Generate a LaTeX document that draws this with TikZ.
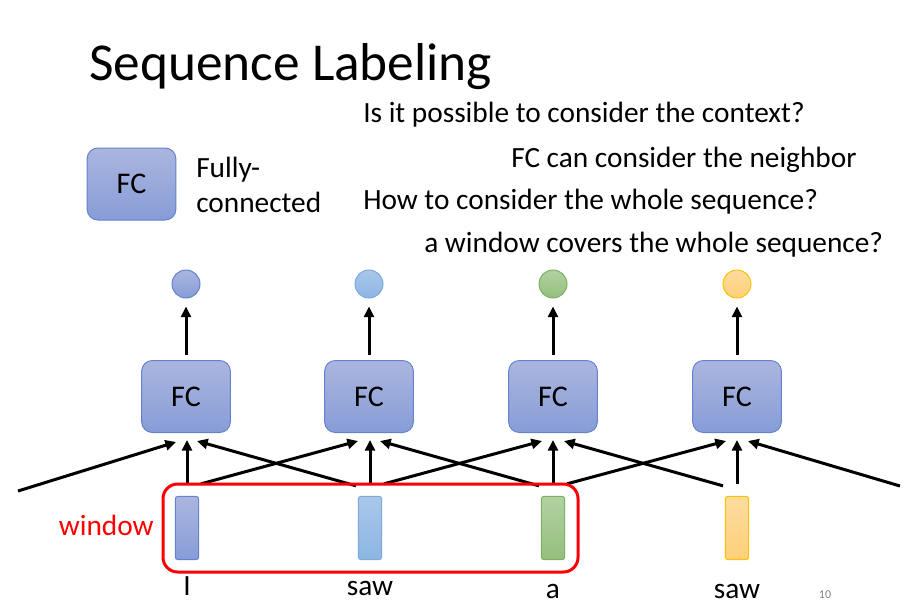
\documentclass[tikz,border=0pt]{standalone}
\usepackage{fontspec}
\setmainfont{Carlito}
\usetikzlibrary{arrows.meta,calc}
\definecolor{bluetop}{RGB}{171,182,223}
\definecolor{bluebot}{RGB}{135,156,215}
\definecolor{blueline}{RGB}{100,130,205}
\definecolor{ltop}{RGB}{170,199,234}
\definecolor{lbot}{RGB}{140,182,227}
\definecolor{lline}{RGB}{125,168,220}
\definecolor{gtop}{RGB}{178,209,162}
\definecolor{gbot}{RGB}{148,191,126}
\definecolor{gline}{RGB}{125,176,98}
\definecolor{ytop}{RGB}{253,220,158}
\definecolor{ybot}{RGB}{253,208,122}
\definecolor{yline}{RGB}{255,192,0}
\begin{document}
\begin{tikzpicture}[x=0.75pt,y=-0.75pt,
  txt/.style={inner sep=0pt,anchor=base west,font=\fontsize{22}{26}\selectfont},
  fcbox/.style={draw=blueline,line width=0.75pt,rounded corners=8pt,top color=bluetop,bottom color=bluebot,minimum width=66.5pt,minimum height=54pt,inner sep=0pt,font=\fontsize{22.5}{26}\selectfont},
  outc/.style={circle,line width=0.75pt,minimum size=21pt,inner sep=0pt},
  inrect/.style={line width=0.75pt,rounded corners=2pt,minimum width=17.5pt,minimum height=47.5pt,inner sep=0pt},
  cblue/.style={draw=blueline,top color=bluetop,bottom color=bluebot},
  clight/.style={draw=lline,top color=ltop,bottom color=lbot},
  cgreen/.style={draw=gline,top color=gtop,bottom color=gbot},
  cyellow/.style={draw=yline,top color=ytop,bottom color=ybot},
  arr/.style={line width=2.25pt,-{Triangle[length=8pt,width=7.5pt]}},
  word/.style={inner sep=0pt,anchor=base,font=\fontsize{22}{26}\selectfont}]
\useasboundingbox (0,0) rectangle (914,611);

% title and texts
\node[txt,font=\fontsize{40}{46}\selectfont] (title) at (89,80) {Sequence Labeling};
\node[txt] (q1) at (363,122) {Is it possible to consider the context?};
\node[txt] (q2) at (511,167) {FC can consider the neighbor};
\node[txt] (q3) at (363,209) {How to consider the whole sequence?};
\node[txt] (q4) at (424,252) {a window covers the whole sequence?};

% legend
\node[fcbox] (leg) at (131.5,184) {FC};
\node[txt] (leg1) at (196,177) {Fully-};
\node[txt] (leg2) at (196,212) {connected};

% FC boxes
\node[fcbox] (fc1) at (186,396.5) {FC};
\node[fcbox] (fc2) at (369,396.5) {FC};
\node[fcbox] (fc3) at (553,396.5) {FC};
\node[fcbox] (fc4) at (737,396.5) {FC};

% outputs
\node[outc,cblue] (o1) at (186,284) {};
\node[outc,clight] (o2) at (369,284) {};
\node[outc,cgreen] (o3) at (553,284) {};
\node[outc,cyellow] (o4) at (737,284) {};

% inputs
\node[inrect,cblue] (i1) at (187,528) {};
\node[inrect,clight] (i2) at (370,528) {};
\node[inrect,cgreen] (i3) at (553,528) {};
\node[inrect,cyellow] (i4) at (737,528) {};

\coordinate (i0) at (18,491);
\coordinate (i5) at (900,486);

% up arrows
\foreach \k in {1,2,3,4}{
  \draw[arr] ($(fc\k.north)+(0,-5)$) -- ($(o\k.south)+(0,8)$);
}
% vertical input arrows
\foreach \k in {1,2,3,4}{
  \draw[arr] ($(i\k.north)+(0,-12)$) -- ($(i\k.north|-fc\k.south)+(0,7)$);
}
% diagonal arrows
\draw[arr] (i0) -- ($(fc1.south)+(-10,9)$);
\foreach \k/\p in {2/1,3/2,4/3}{
  \draw[arr] ($(i\p.north)+(14,-12)$) -- ($(fc\k.south)+(-11,8)$);
}
\foreach \k/\n in {1/2,2/3,3/4}{
  \draw[arr] ($(i\n.north)+(-14,-10)$) -- ($(fc\k.south)+(11,8)$);
}
\draw[arr] (i5) -- ($(fc4.south)+(11,8)$);

% window
\draw[red,line width=2.25pt,rounded corners=11pt] (163,484) rectangle (578,572);
\node[inner sep=0pt,anchor=base east,text=red,font=\fontsize{22}{26}\selectfont] (win) at (154,535) {window};

% words
\node[word] (w1) at (i1|-0,595) {I};
\node[word] (w2) at (i2|-0,595) {saw};
\node[word] (w3) at (i3|-0,598) {a};
\node[word] (w4) at (i4|-0,598) {saw};
\node[inner sep=0pt,anchor=base,text=gray,font=\fontsize{9}{10}\selectfont] (pg) at (825,598) {10};
\end{tikzpicture}
\end{document}
